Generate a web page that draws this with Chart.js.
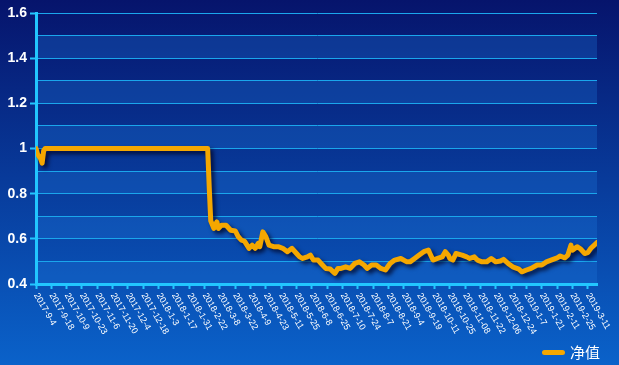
<!DOCTYPE html>
<html>
<head>
<meta charset="utf-8">
<script src="https://cdn.jsdelivr.net/npm/chart.js@4/dist/chart.umd.min.js"></script>
<style>
html, body { margin: 0; padding: 0; background: #0a3c9c; }
#wrap { width: 619px; height: 365px; }
</style>
</head>
<body>
<div id="wrap"><canvas id="navChart"></canvas></div>
<script>
// x轴刻度(每10个交易日)
const tickLabels = [
    '2017-9-4', '2017-9-18', '2017-10-9', '2017-10-23', '2017-11-6', '2017-11-20',
    '2017-12-4', '2017-12-18', '2018-1-3', '2018-1-17', '2018-1-31', '2018-2-22',
    '2018-3-8', '2018-3-22', '2018-4-9', '2018-4-23', '2018-5-11', '2018-5-25',
    '2018-6-8', '2018-6-25', '2018-7-10', '2018-7-24', '2018-8-7', '2018-8-21',
    '2018-9-4', '2018-9-19', '2018-10-11', '2018-10-25', '2018-11-08', '2018-11-22',
    '2018-12-06', '2018-12-24', '2019-1-7', '2019-1-21', '2019-2-11', '2019-2-25',
    '2019-3-11'
];

// 交易日序号
const days = [
    0, 1, 3, 4, 5, 6, 112, 113, 114, 116, 118, 119, 121, 124, 127, 130, 132, 134,
    136, 139, 141, 143, 145, 146, 148, 150, 152, 155, 158, 161, 164, 167, 170, 172,
    174, 177, 179, 181, 184, 186, 189, 192, 195, 197, 199, 202, 205, 208, 211, 214,
    216, 219, 222, 225, 228, 231, 234, 238, 242, 244, 247, 250, 253, 256, 257, 259,
    262, 265, 267, 269, 270, 272, 274, 278, 281, 283, 286, 288, 291, 294, 297, 300,
    303, 305, 308, 311, 315, 317, 320, 323, 327, 330, 333, 336, 340, 342, 345, 347,
    349, 350, 353, 355, 358, 360, 362, 366
];

// 净值
const values = [
    1.0, 0.975, 0.955, 0.935, 0.99, 1.0, 1.0, 0.83, 0.68, 0.646, 0.675, 0.646, 0.66, 0.66, 0.638, 0.635, 0.609, 0.594,
    0.59, 0.558, 0.572, 0.558, 0.58, 0.565, 0.631, 0.609, 0.572, 0.565, 0.565, 0.558, 0.543, 0.558, 0.535, 0.52,
    0.513, 0.52, 0.528, 0.506, 0.506, 0.491, 0.469, 0.466, 0.447, 0.469, 0.469, 0.476, 0.469, 0.491, 0.498, 0.484,
    0.469, 0.484, 0.484, 0.469, 0.462, 0.491, 0.506, 0.513, 0.498, 0.498, 0.513, 0.528, 0.543, 0.55, 0.535, 0.506,
    0.513, 0.52, 0.543, 0.528, 0.513, 0.506, 0.535, 0.528, 0.52, 0.513, 0.52, 0.506, 0.498, 0.498, 0.513, 0.498,
    0.502, 0.509, 0.491, 0.476, 0.466, 0.454, 0.462, 0.469, 0.484, 0.484, 0.498, 0.506, 0.516, 0.524, 0.516, 0.528,
    0.572, 0.55, 0.565, 0.557, 0.535, 0.539, 0.558, 0.584
];

const AXIS_CYAN = '#22c6ff';
const GRID_CYAN = '#1aa6ec';
const LINE_GOLD = '#f5a700';

// 0.2刻度才显示标签
const isMajor = v => Math.round(v * 10) % 2 === 0;

// 背景渐变 + 隔行色带
const backgroundPlugin = {
    id: 'bgBands',
    beforeDraw(chart) {
        const { ctx, width, height, chartArea: { left, right }, scales: { y } } = chart;
        ctx.save();
        const g = ctx.createLinearGradient(0, 0, 0, height);
        g.addColorStop(0, '#06146c');
        g.addColorStop(1, '#0a62ca');
        ctx.fillStyle = g;
        ctx.fillRect(0, 0, width, height);

        ctx.fillStyle = 'rgba(30, 120, 220, 0.3)';
        y.ticks.forEach((t, i) => {
            if (i % 2 !== 0 || i + 1 >= y.ticks.length) return;
            const y0 = y.getPixelForValue(t.value);
            const y1 = y.getPixelForValue(y.ticks[i + 1].value);
            ctx.fillRect(left, y1, right - left, y0 - y1);
        });
        ctx.restore();
    }
};

// 折线阴影
const shadowPlugin = {
    id: 'lineShadow',
    beforeDatasetsDraw(chart) {
        const ctx = chart.ctx;
        ctx.save();
        ctx.shadowColor = 'rgba(0, 0, 30, 0.75)';
        ctx.shadowBlur = 4;
        ctx.shadowOffsetX = 3;
        ctx.shadowOffsetY = 3;
    },
    afterDatasetsDraw(chart) {
        chart.ctx.restore();
    }
};

Chart.defaults.font.family = "'Liberation Sans', Arial, sans-serif";

new Chart(document.getElementById('navChart'), {
    type: 'line',
    data: {
        datasets: [{
            label: '净值',
            data: days.map((d, i) => ({ x: d, y: values[i] })),
            borderColor: LINE_GOLD,
            backgroundColor: LINE_GOLD,
            borderWidth: 5,
            borderCapStyle: 'round',
            borderJoinStyle: 'round',
            pointRadius: 0,
            tension: 0
        }]
    },
    plugins: [backgroundPlugin, shadowPlugin],
    options: {
        responsive: true,
        maintainAspectRatio: false,
        animation: false,
        layout: { padding: { top: 13, right: 10, bottom: -5, left: 0 } },
        scales: {
            x: {
                type: 'linear',
                min: 0,
                max: 366,
                border: { color: AXIS_CYAN, width: 3 },
                grid: { drawOnChartArea: false, drawTicks: true, tickLength: 5, tickWidth: 2, tickColor: AXIS_CYAN },
                ticks: {
                    stepSize: 10,
                    autoSkip: false,
                    includeBounds: false,
                    maxTicksLimit: 100,
                    minRotation: -60,
                    maxRotation: -60,
                    padding: 2,
                    color: '#ffffff',
                    font: { size: 9 },
                    callback: v => tickLabels[Math.round(v / 10)] ?? ''
                },
                afterFit(scale) {
                    scale.height = 52;
                    scale.paddingRight = 22;
                    // 标签从刻度处向右下方倾斜
                    scale._getXAxisLabelAlignment = () => 'left';
                }
            },
            y: {
                min: 0.4,
                max: 1.6,
                border: { color: AXIS_CYAN, width: 3 },
                grid: {
                    color: GRID_CYAN,
                    lineWidth: 1,
                    tickLength: 6,
                    tickWidth: 2,
                    tickColor: c => (c.tick && isMajor(c.tick.value)) ? AXIS_CYAN : 'rgba(0,0,0,0)'
                },
                ticks: {
                    stepSize: 0.1,
                    maxTicksLimit: 100,
                    padding: 3,
                    color: '#ffffff',
                    font: { size: 14, weight: 'bold' },
                    callback: v => isMajor(v) ? String(Number(v.toFixed(1))) : ''
                },
                afterFit(scale) {
                    scale.width = 36;
                }
            }
        },
        plugins: {
            legend: {
                position: 'bottom',
                align: 'end',
                labels: {
                    color: '#ffffff',
                    font: { size: 15, family: "'Noto Sans CJK SC', sans-serif" },
                    usePointStyle: true,
                    pointStyle: 'line',
                    pointStyleWidth: 18,
                    padding: 9,
                    // 图例线段用圆头
                    generateLabels: chart => Chart.defaults.plugins.legend.labels.generateLabels(chart)
                        .map(item => ({ ...item, lineCap: 'round', lineWidth: 5, strokeStyle: LINE_GOLD }))
                }
            },
            tooltip: { enabled: false }
        }
    }
});
</script>
</body>
</html>
